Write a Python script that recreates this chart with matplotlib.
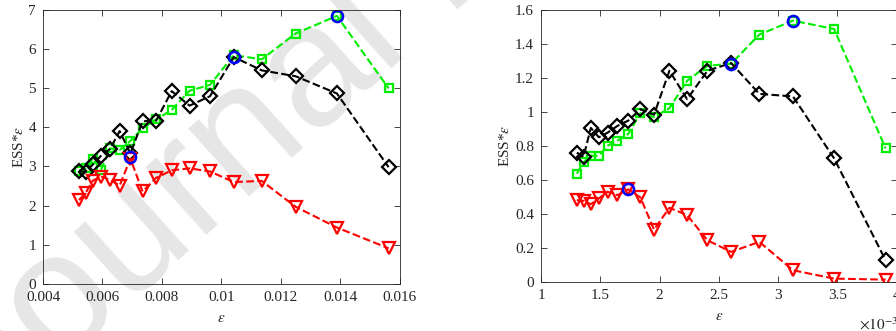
import matplotlib
matplotlib.use("Agg")
import matplotlib.pyplot as plt

plt.rcParams['font.family'] = ['Liberation Serif', 'DejaVu Serif']
plt.rcParams['mathtext.fontset'] = 'stix'

# left panel
eps_a = [0.00521, 0.00543, 0.00568, 0.00595, 0.00625, 0.00658, 0.00694, 0.00735, 0.00781,
         0.00833, 0.00893, 0.00962, 0.01042, 0.01136, 0.0125, 0.01389, 0.01563]
green_a = [2.88, 2.95, 3.20, 2.91, 3.46, 3.42, 3.65, 3.97, 4.20, 4.44, 4.93, 5.08, 5.84,
           5.73, 6.39, 6.84, 4.99]
black_a = [2.89, 2.85, 3.05, 3.27, 3.44, 3.90, 3.33, 4.15, 4.17, 4.92, 4.55, 4.79, 5.79,
           5.45, 5.30, 4.86, 2.98]
red_a = [2.14, 2.32, 2.64, 2.74, 2.66, 2.51, 3.20, 2.36, 2.71, 2.90, 2.95, 2.87, 2.60,
         2.63, 1.97, 1.44, 0.91]
best_xa = [0.00694, 0.01042, 0.01389]
best_ya = [3.25, 5.80, 6.84]

# right panel (x in units of 1e-3)
eps_b = [1.302, 1.359, 1.420, 1.488, 1.563, 1.645, 1.736, 1.838, 1.953, 2.083, 2.232,
         2.404, 2.604, 2.841, 3.125, 3.472, 3.906]
green_b = [0.636, 0.703, 0.742, 0.742, 0.801, 0.830, 0.870, 0.991, 0.968, 1.021, 1.182,
           1.270, 1.282, 1.453, 1.535, 1.486, 0.785]
black_b = [0.760, 0.736, 0.905, 0.850, 0.878, 0.917, 0.948, 1.015, 0.982, 1.241, 1.074,
           1.241, 1.286, 1.105, 1.090, 0.726, 0.128]
red_b = [0.481, 0.477, 0.457, 0.491, 0.530, 0.510, 0.544, 0.497, 0.308, 0.436, 0.393,
         0.245, 0.177, 0.236, 0.069, 0.020, 0.014]
best_xb = [1.736, 2.604, 3.125]
best_yb = [0.544, 1.282, 1.535]

GREEN = '#00ee00'
GRAY = '#262626'

fig = plt.figure(figsize=(8.96, 3.31), dpi=100)

# page watermark behind the plots
fig.text(-0.009, -0.293, 'Journal Pre-proof', fontsize=124, color='#e6e6e6',
         rotation=42, rotation_mode='anchor', family='Liberation Sans', zorder=-1,
         ha='left', va='baseline')


def panel(ax, x, g, k, r, bx, by):
    ax.set_facecolor('none')
    ax.plot(x, g, ls='--', color=GREEN, lw=1.5, marker='s', ms=6, mfc='none', mew=1.6)
    ax.plot(x, k, ls='--', color='black', lw=1.5, marker='D', ms=7, mfc='none', mew=1.6)
    ax.plot(x, r, ls='--', color='red', lw=1.5, marker='v', ms=9, mfc='none', mew=1.6)
    ax.plot(bx, by, ls='none', color='blue', marker='o', ms=8, mfc='none', mew=1.8)
    ax.tick_params(direction='in', top=True, right=True, length=4, width=0.6,
                   labelsize=11, colors=GRAY, pad=5)
    for s in ax.spines.values():
        s.set_color(GRAY)
        s.set_linewidth(0.6)
    ax.set_ylabel(r'ESS*$\epsilon$', fontsize=11, color=GRAY, labelpad=2)
    ax.set_xlabel(r'$\epsilon$', fontsize=11, color=GRAY, labelpad=6)


ax1 = fig.add_axes([0.048, 0.142, 0.398, 0.829])
panel(ax1, eps_a, green_a, black_a, red_a, best_xa, best_ya)
ax1.set_xlim(0.004, 0.016)
ax1.set_ylim(0, 7)
ax1.set_xticks([0.004, 0.006, 0.008, 0.01, 0.012, 0.014, 0.016])
ax1.set_xticklabels(['0.004', '0.006', '0.008', '0.01', '0.012', '0.014', '0.016'])
ax1.set_yticks(range(8))

ax2 = fig.add_axes([0.6038, 0.148, 0.397, 0.823])
panel(ax2, eps_b, green_b, black_b, red_b, best_xb, best_yb)
ax2.set_xlim(1, 4)
ax2.set_ylim(0, 1.6)
ax2.set_xticks([1, 1.5, 2, 2.5, 3, 3.5, 4])
ax2.set_xticklabels(['1', '1.5', '2', '2.5', '3', '3.5', '4'])
ax2.set_yticks([0, 0.2, 0.4, 0.6, 0.8, 1, 1.2, 1.4, 1.6])
ax2.set_yticklabels(['0', '0.2', '0.4', '0.6', '0.8', '1', '1.2', '1.4', '1.6'])
ax2.text(0.895, -0.155, r'$\times10^{-3}$', transform=ax2.transAxes, fontsize=11,
         color=GRAY, va='center', ha='left')

fig.savefig('out.png', dpi=100)
